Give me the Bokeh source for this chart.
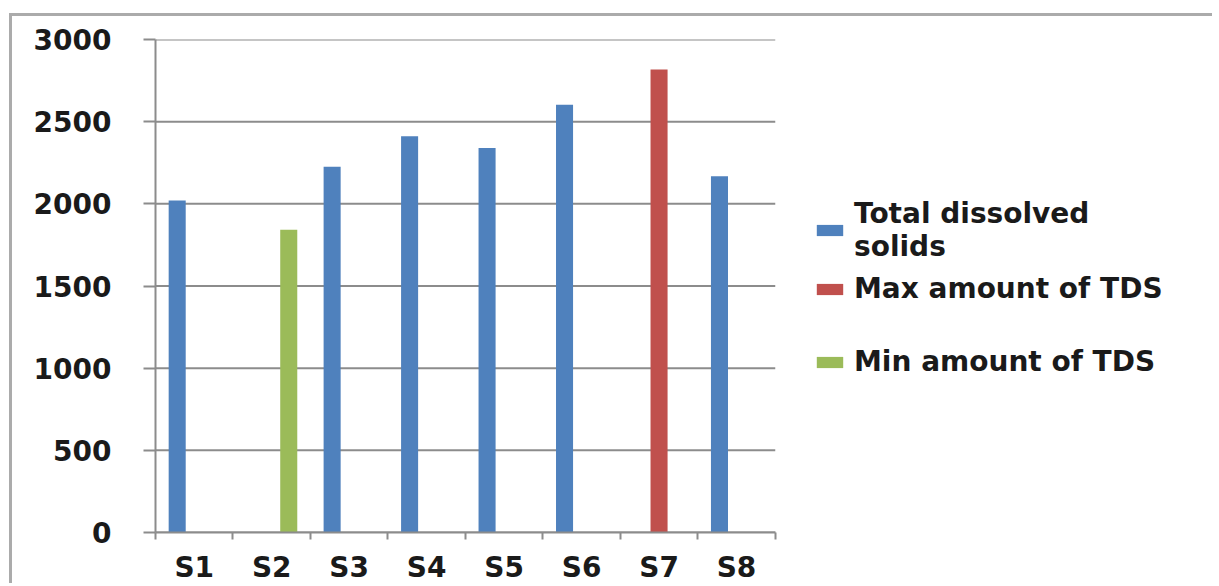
from bokeh.plotting import figure
from bokeh.models import (Range1d, FixedTicker, ColumnDataSource, Legend, LegendItem)
from bokeh.embed import file_html
from bokeh.resources import INLINE
import numpy as np

categories = ["S1", "S2", "S3", "S4", "S5", "S6", "S7", "S8"]
tds = [2020, np.nan, 2225, 2412, 2340, 2603, np.nan, 2168]
max_tds = [np.nan, np.nan, np.nan, np.nan, np.nan, np.nan, 2817, np.nan]
min_tds = [np.nan, 1843, np.nan, np.nan, np.nan, np.nan, np.nan, np.nan]
y_ticks = [0, 500, 1000, 1500, 2000, 2500, 3000]

series_names = ["Total dissolved\nsolids", "Max amount of TDS", "Min amount of TDS"]
colors = ["#4F81BD", "#C0504D", "#9BBB59"]
offsets = [-0.22, 0.0, 0.22]
bar_w = 0.22

n = len(categories)
pos = np.arange(1, n + 1)

# plot area spans whole width; the axis & grid are bounded to the categories,
# the free space on the right holds the legend
cat_px = 618 / n
frame_w = 1200 - 143
x_end = 0.5 + frame_w / cat_px

p = figure(width=1203, height=570, output_backend="svg", toolbar_location=None,
           x_range=Range1d(0.5, x_end), y_range=Range1d(0, 3000),
           min_border_left=143, min_border_right=0, min_border_top=23, min_border_bottom=52)
p.outline_line_color = None
p.background_fill_color = "white"
p.border_fill_color = "white"

axis_col = "#8c8c8c"
font = "DejaVu Sans"

# horizontal grid lines limited to the category area
grid_src = ColumnDataSource(dict(y=y_ticks, x0=[0.5] * len(y_ticks), x1=[n + 0.5] * len(y_ticks)))
p.segment(x0="x0", x1="x1", y0="y", y1="y", source=grid_src,
          line_color=axis_col, line_width=2, level="underlay")

renderers = []
for vals, col, off in zip([tds, max_tds, min_tds], colors, offsets):
    src = ColumnDataSource(dict(x=pos + off, top=vals))
    r = p.vbar(x="x", top="top", bottom=0, width=bar_w, source=src,
               fill_color=col, line_color=None)
    renderers.append(r)

# invisible renderer used only as a blank spacer row in the legend
spacer = p.vbar(x=[], top=[], width=bar_w, fill_alpha=0, line_alpha=0)

# x axis
xa = p.xaxis[0]
xa.bounds = (0.5, n + 0.5)
xa.ticker = FixedTicker(ticks=list(pos), minor_ticks=list(np.arange(0.5, n + 1, 1.0)))
xa.major_label_overrides = {int(i): c for i, c in zip(pos, categories)}
xa.major_tick_out = 0
xa.major_tick_in = 0
xa.minor_tick_out = 7
xa.minor_tick_in = 0
xa.minor_tick_line_color = axis_col
xa.minor_tick_line_width = 2
xa.axis_line_color = axis_col
xa.axis_line_width = 2
xa.major_label_text_font = font
xa.major_label_text_font_style = "bold"
xa.major_label_text_font_size = "28px"
xa.major_label_text_color = "#1a1a1a"
xa.major_label_standoff = 11

# y axis
ya = p.yaxis[0]
ya.ticker = FixedTicker(ticks=y_ticks)
ya.major_tick_out = 12
ya.major_tick_in = 0
ya.minor_tick_out = 0
ya.minor_tick_in = 0
ya.major_tick_line_color = axis_col
ya.major_tick_line_width = 2
ya.axis_line_color = axis_col
ya.axis_line_width = 2
ya.major_label_text_font = font
ya.major_label_text_font_style = "bold"
ya.major_label_text_font_size = "28px"
ya.major_label_text_color = "#1a1a1a"
ya.major_label_standoff = 32

p.xgrid.grid_line_color = None
p.ygrid.grid_line_color = None

items = [LegendItem(label=series_names[0], renderers=[renderers[0]]),
         LegendItem(label=series_names[1], renderers=[renderers[1]]),
         LegendItem(label=" ", renderers=[spacer]),
         LegendItem(label=series_names[2], renderers=[renderers[2]])]
legend = Legend(items=items, location=(658, 154), orientation="vertical")
legend.border_line_color = None
legend.background_fill_alpha = 0
legend.padding = 0
legend.margin = 0
legend.glyph_width = 33
legend.glyph_height = 14
legend.label_height = 22
legend.label_standoff = 8
legend.spacing = 9
legend.label_text_font = font
legend.label_text_font_style = "bold"
legend.label_text_font_size = "28px"
legend.label_text_color = "#1a1a1a"
p.add_layout(legend, "center")

p.styles = {"border-top": "3px solid #ababab", "border-left": "3px solid #ababab",
            "margin-top": "13px", "margin-left": "9px"}

open("out.html", "w").write(file_html(p, INLINE))
